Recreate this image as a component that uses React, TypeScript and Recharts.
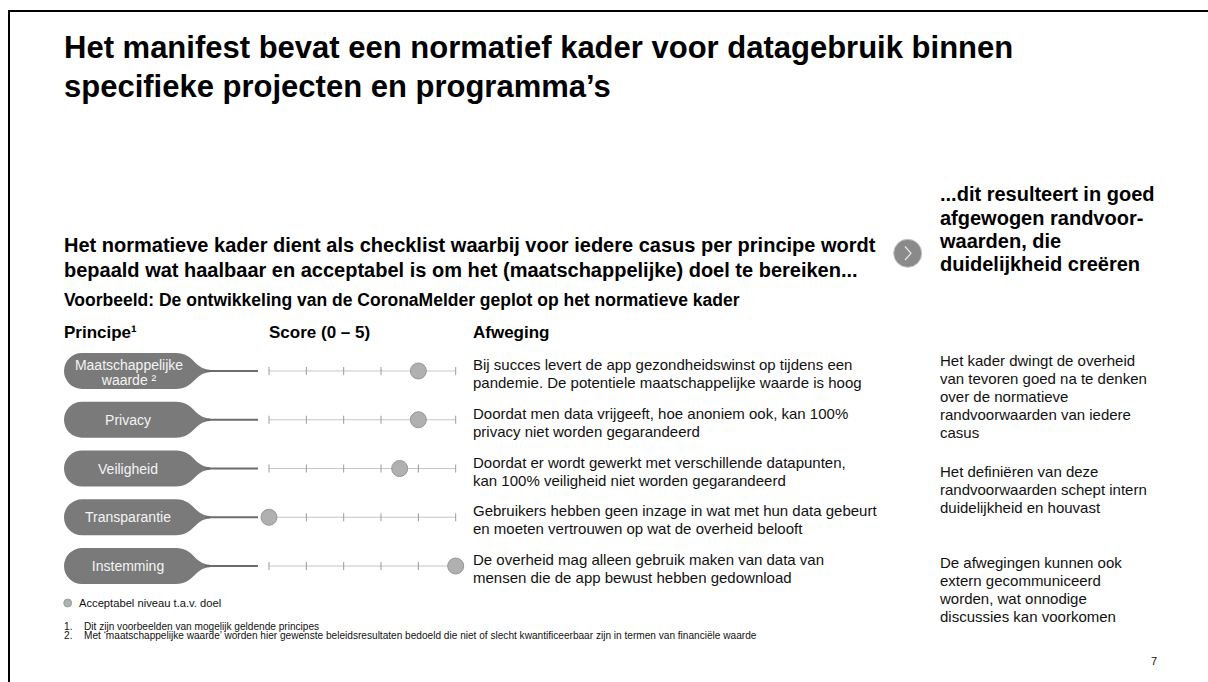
import React from 'react';
import { ScatterChart, Scatter, XAxis, YAxis } from 'recharts';

const principles = ['Maatschappelijke waarde', 'Privacy', 'Veiligheid', 'Transparantie', 'Instemming'];
const principleLabelLines = [['Maatschappelijke', 'waarde ²'], ['Privacy'], ['Veiligheid'], ['Transparantie'], ['Instemming']];
const scores = [4, 4, 3.5, 0, 5];
const scoreTicks = [0, 1, 2, 3, 4, 5];
const considerationLines = [
  ['Bij succes levert de app gezondheidswinst op tijdens een', 'pandemie. De potentiele maatschappelijke waarde is hoog'],
  ['Doordat men data vrijgeeft, hoe anoniem ook, kan 100%', 'privacy niet worden gegarandeerd'],
  ['Doordat er wordt gewerkt met verschillende datapunten,', 'kan 100% veiligheid niet worden gegarandeerd'],
  ['Gebruikers hebben geen inzage in wat met hun data gebeurt', 'en moeten vertrouwen op wat de overheid belooft'],
  ['De overheid mag alleen gebruik maken van data van', 'mensen die de app bewust hebben gedownload'],
];
const titleLines = ['Het manifest bevat een normatief kader voor datagebruik binnen', 'specifieke projecten en programma’s'];
const subLines = [
  'Het normatieve kader dient als checklist waarbij voor iedere casus per principe wordt',
  'bepaald wat haalbaar en acceptabel is om het (maatschappelijke) doel te bereiken...',
];
const exampleText = 'Voorbeeld: De ontwikkeling van de CoronaMelder geplot op het normatieve kader';
const headers = ['Principe¹', 'Score (0 – 5)', 'Afweging'];
const rightHeadLines = ['...dit resulteert in goed', 'afgewogen randvoor-', 'waarden, die', 'duidelijkheid creëren'];
const rightParas = [
  ['Het kader dwingt de overheid', 'van tevoren goed na te denken', 'over de normatieve', 'randvoorwaarden van iedere', 'casus'],
  ['Het definiëren van deze', 'randvoorwaarden schept intern', 'duidelijkheid en houvast'],
  ['De afwegingen kunnen ook', 'extern gecommuniceerd', 'worden, wat onnodige', 'discussies kan voorkomen'],
];
const legendText = 'Acceptabel niveau t.a.v. doel';
const footnotes = [
  'Dit zijn voorbeelden van mogelijk geldende principes',
  'Met ‘maatschappelijke waarde’ worden hier gewenste beleidsresultaten bedoeld die niet of slecht kwantificeerbaar zijn in termen van financiële waarde',
];
const pageNumber = '7';

const FONT = '"Liberation Sans", Arial, Helvetica, sans-serif';
const rowIdx = principles.map((_, i) => i);
const dotData = scores.map((s, i) => ({ x: s, y: i, name: principles[i] }));

const PillTick = (props: any) => {
  const { y, payload } = props;
  const i = payload.value as number;
  const lines = principleLabelLines[i] || [];
  const path = `M 82 ${y - 18} L 176 ${y - 18} C 194 ${y - 18} 194 ${y - 2} 210 ${y - 1.2} L 210 ${y + 1.2} C 194 ${y + 2} 194 ${y + 18} 176 ${y + 18} L 82 ${y + 18} A 18 18 0 0 1 82 ${y - 18} Z`;
  return (
    <g>
      <path d={path} fill="#7a7a7a" />
      <line x1={205} x2={258} y1={y} y2={y} stroke="#6c6c6c" strokeWidth={2.2} />
      {lines.length === 1 ? (
        <text x={128} y={y + 5} textAnchor="middle" fill="#f4f4f4" fontSize={14} fontFamily={FONT}>{lines[0]}</text>
      ) : (
        <text textAnchor="middle" fill="#f4f4f4" fontSize={14} fontFamily={FONT}>
          <tspan x={129} y={y - 1}>{lines[0]}</tspan>
          <tspan x={129} y={y + 14}>{lines[1]}</tspan>
        </text>
      )}
    </g>
  );
};

const ConsiderationTick = (props: any) => {
  const { y, payload } = props;
  const i = payload.value as number;
  const lines = considerationLines[i] || [];
  return (
    <text fill="#111" fontSize={15} fontFamily={FONT} textAnchor="start">
      <tspan x={473} y={y - 1}>{lines[0]}</tspan>
      <tspan x={473} y={y + 17}>{lines[1]}</tspan>
    </text>
  );
};

const TickMark = (props: any) => {
  const { cx, cy } = props;
  return <line x1={cx} x2={cx} y1={cy - 4} y2={cy + 4} stroke="#9a9a9a" strokeWidth={1} />;
};

const ScoreDot = (props: any) => {
  const { cx, cy } = props;
  return <circle cx={cx} cy={cy} r={8} fill="#b0b0b0" stroke="#979797" strokeWidth={1} />;
};

const abs = (left: number, top: number, extra: React.CSSProperties = {}): React.CSSProperties => ({
  position: 'absolute',
  left,
  top,
  whiteSpace: 'nowrap',
  fontFamily: FONT,
  color: '#000',
  ...extra,
});

export default function App() {
  return (
    <div style={{ position: 'absolute', left: 0, top: 0, width: 1208, height: 682, overflow: 'hidden', background: '#fff' }}>
      <div style={{ position: 'absolute', left: 8, top: 10, width: 1300, height: 800, borderTop: '2px solid #000', borderLeft: '2px solid #000' }} />

      <div style={abs(64, 27.5, { fontSize: 31, lineHeight: '39px', fontWeight: 700 })}>
        {titleLines.map((l, i) => <div key={i}>{l}</div>)}
      </div>

      <div style={abs(64, 232.5, { fontSize: 20, lineHeight: '25px', fontWeight: 700 })}>
        {subLines.map((l, i) => <div key={i}>{l}</div>)}
      </div>

      <div style={abs(64, 290, { fontSize: 17.5, lineHeight: '20px', fontWeight: 700 })}>{exampleText}</div>

      <div style={abs(64, 323, { fontSize: 17, lineHeight: '20px', fontWeight: 700 })}>{headers[0]}</div>
      <div style={abs(269, 323, { fontSize: 17, lineHeight: '20px', fontWeight: 700 })}>{headers[1]}</div>
      <div style={abs(473, 323, { fontSize: 17, lineHeight: '20px', fontWeight: 700 })}>{headers[2]}</div>

      <svg style={{ position: 'absolute', left: 892, top: 238 }} width={32} height={32}>
        <circle cx={15.7} cy={15.3} r={14} fill="#8a8a8a" stroke="#c4c4c4" strokeWidth={1} />
        <path d="M 13 8.5 L 19 15.3 L 13 22" fill="none" stroke="#e8e8e8" strokeWidth={1.2} />
      </svg>

      <div style={abs(940, 183.3, { fontSize: 20, lineHeight: '23.3px', fontWeight: 700 })}>
        {rightHeadLines.map((l, i) => <div key={i}>{l}</div>)}
      </div>

      {rightParas.map((p, k) => (
        <div key={k} style={abs(940, [351.7, 462.7, 554.3][k], { fontSize: 15, lineHeight: '18px', color: '#111' })}>
          {p.map((l, i) => <div key={i}>{l}</div>)}
        </div>
      ))}

      <div style={{ position: 'absolute', left: 0, top: 0 }}>
        <ScatterChart width={900} height={620} margin={{ top: 346.6, right: 0, bottom: 29.6, left: 0 }}>
          <XAxis type="number" dataKey="x" domain={[0, 5]} hide />
          <YAxis
            yAxisId="left"
            type="number"
            dataKey="y"
            domain={[-0.5, 4.5]}
            reversed
            ticks={rowIdx}
            interval={0}
            width={269}
            axisLine={false}
            tickLine={false}
            tick={PillTick}
          />
          <YAxis
            yAxisId="right"
            orientation="right"
            type="number"
            dataKey="y"
            domain={[-0.5, 4.5]}
            reversed
            ticks={rowIdx}
            interval={0}
            width={444.3}
            axisLine={false}
            tickLine={false}
            tick={ConsiderationTick}
          />
          {rowIdx.map((i) => (
            <Scatter
              key={i}
              yAxisId="right"
              data={scoreTicks.map((t) => ({ x: t, y: i }))}
              line={{ stroke: '#c6c6c6', strokeWidth: 1 }}
              shape={TickMark}
              isAnimationActive={false}
            />
          ))}
          <Scatter yAxisId="left" data={dotData} shape={ScoreDot} isAnimationActive={false} />
        </ScatterChart>
      </div>

      <svg style={{ position: 'absolute', left: 62, top: 598 }} width={12} height={12}>
        <circle cx={5.7} cy={5} r={4} fill="#b0b0b0" stroke="#999" strokeWidth={0.8} />
      </svg>
      <div style={abs(79, 596, { fontSize: 11.2, lineHeight: '15px', color: '#111' })}>{legendText}</div>

      {footnotes.map((f, i) => (
        <div key={i} style={{ ...abs(64, 621.5 + i * 9.8, { fontSize: 10.1, lineHeight: '10px', color: '#111' }) }}>
          <span style={{ display: 'inline-block', width: 20 }}>{i + 1}.</span>
          {f}
        </div>
      ))}

      <div style={abs(1151, 655, { fontSize: 11, lineHeight: '13px', color: '#111' })}>{pageNumber}</div>
    </div>
  );
}
